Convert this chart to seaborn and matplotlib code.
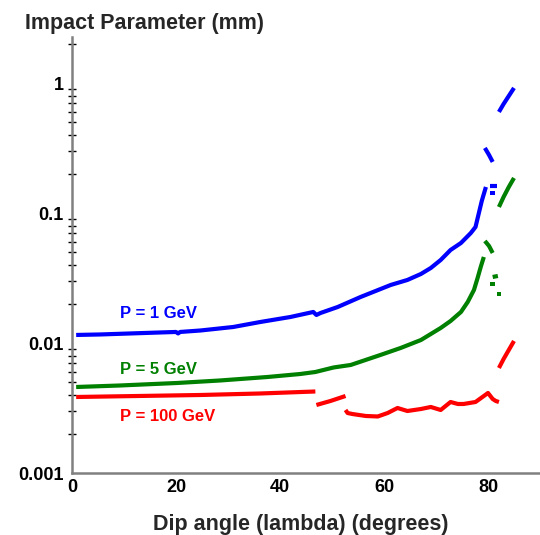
import numpy as np
import pandas as pd
import matplotlib
matplotlib.use("Agg")
import matplotlib.pyplot as plt
import matplotlib.ticker as mticker
import seaborn as sns

# ---------------- data ----------------
SERIES = ["P = 1 GeV", "P = 5 GeV", "P = 100 GeV"]
COLORS = {"P = 1 GeV": "#0000FF", "P = 5 GeV": "#008000", "P = 100 GeV": "#FF0000"}

# line segments (dip angle in degrees, impact parameter in mm)
blue_x = [
    [0.8, 5.4, 11.2, 17.0, 20.0, 20.4, 20.8, 24.7, 31.0, 36.2, 42.0, 46.4, 47.0, 47.8,
     51.1, 55.5, 61.3, 64.5, 67.1, 69.0, 70.9, 72.8, 74.8, 76.7, 77.6, 78.2, 78.8, 79.6],
    [80.3, 81.7],
    [79.4, 80.2, 80.9],
    [82.1, 83.0, 84.0, 85.0],
]
blue_y = [
    [0.01155, 0.01165, 0.01186, 0.01207, 0.01218, 0.01186, 0.01218, 0.0125, 0.0133,
     0.01453, 0.01588, 0.01736, 0.01646, 0.01705, 0.01896, 0.02264, 0.02802, 0.03061,
     0.03404, 0.03785, 0.04362, 0.05208, 0.05896, 0.0704, 0.0783, 0.0986, 0.1241, 0.1591],
    [0.1619, 0.1619],
    [0.3177, 0.2805, 0.2479],
    [0.6014, 0.693, 0.7985, 0.920],
]
green_x = [
    [0.8, 9.2, 20.2, 28.5, 37.6, 43.9, 46.8, 50.3, 53.6, 59.3, 63.2, 67.1, 70.9,
     72.8, 74.8, 76.1, 77.3, 78.0, 78.6, 79.2],
    [79.4, 80.2, 80.9],
    [80.9, 81.9],
    [82.1, 83.0, 84.0, 85.0],
]
green_y = [
    [0.004592, 0.004716, 0.00493, 0.005155, 0.005483, 0.005782, 0.005991, 0.00649,
     0.006785, 0.008098, 0.009169, 0.01056, 0.01307, 0.01479, 0.01736, 0.02072,
     0.02564, 0.03171, 0.03853, 0.04601],
    [0.0611, 0.05591, 0.04939],
    [0.03228, 0.03286],
    [0.1116, 0.1333, 0.1591, 0.1866],
]
red_x = [
    [0.8, 24.7, 36.2, 46.8],
    [47.0, 49.7, 52.6],
    [52.6, 53.0, 53.9, 56.5, 58.8, 60.7, 62.6, 64.5, 67.1, 69.0, 70.9, 72.8, 74.2,
     75.3, 77.6, 79.2, 80.0, 80.9, 81.5, 82.1],
    [82.1, 83.0, 84.0, 85.0],
]
red_y = [
    [0.003847, 0.003985, 0.004093, 0.004241],
    [0.003338, 0.003583, 0.003915],
    [0.003055, 0.002896, 0.002846, 0.002747, 0.002723, 0.002896, 0.003165, 0.003001,
     0.003109, 0.003223, 0.003055, 0.00352, 0.003398, 0.003398, 0.00352, 0.003915,
     0.00413, 0.003713, 0.003583, 0.00352],
    [0.006432, 0.007545, 0.00885, 0.01038],
]
# isolated points
dot_series = ["P = 1 GeV", "P = 5 GeV", "P = 5 GeV"]
dot_x = [80.9, 80.9, 82.1]
dot_y = [0.143, 0.02851, 0.02388]

label_x = [9.2, 9.2, 9.2]
label_y = [0.01675, 0.00621, 0.0027]

x_ticks = [0, 20, 40, 60, 80]
y_ticks = [0.001, 0.01, 0.1, 1]

# ---------------- build table ----------------
rows = []
for name, xs, ys in zip(SERIES, [blue_x, green_x, red_x], [blue_y, green_y, red_y]):
    for k, (sx, sy) in enumerate(zip(xs, ys)):
        for order, (a, b) in enumerate(zip(sx, sy)):
            rows.append({"series": name, "seg": f"{name}-{k}", "order": order,
                         "x": a, "y": b})
lines_df = pd.DataFrame(rows)
dots_df = pd.DataFrame({"series": dot_series, "x": dot_x, "y": dot_y})

# ---------------- plot ----------------
sns.set_theme(style="white")
plt.rcParams["font.family"] = ["Liberation Sans", "DejaVu Sans"]

fig = plt.figure(figsize=(5.4, 5.35), dpi=100)
ax = fig.add_axes([72 / 540, 62 / 535, 468 / 540, 436 / 535])

sns.lineplot(data=lines_df, x="x", y="y", hue="series", units="seg",
             estimator=None, sort=False, palette=COLORS, linewidth=3.0,
             legend=False, ax=ax, solid_capstyle="butt")
sns.scatterplot(data=dots_df, x="x", y="y", hue="series", palette=COLORS,
                marker="s", s=12, linewidth=0, legend=False, ax=ax)

ax.set_yscale("log")
ax.set_xlim(0, 90)
ax.set_ylim(0.001, 2.27)

for name, lx, ly in zip(SERIES, label_x, label_y):
    ax.text(lx, ly, name, color=COLORS[name], fontsize=12, fontweight="bold",
            ha="left", va="center")

ax.set_xticks(x_ticks)
ax.set_yticks(y_ticks)
ax.yaxis.set_minor_locator(mticker.LogLocator(base=10, subs=np.arange(2, 10)))
ax.yaxis.set_minor_formatter(mticker.NullFormatter())
ax.yaxis.set_major_formatter(mticker.FuncFormatter(lambda v, _: f"{v:g}"))
ax.xaxis.set_major_formatter(mticker.FuncFormatter(lambda v, _: f"{v:g}"))

for s in ["top", "right"]:
    ax.spines[s].set_visible(False)
for s in ["left", "bottom"]:
    ax.spines[s].set_color("#808080")
    ax.spines[s].set_linewidth(1.8)

ax.tick_params(axis="both", which="major", direction="inout", length=8, width=1.2,
               color="black", labelsize=13, labelcolor="black")
ax.tick_params(axis="y", which="minor", direction="inout", length=6, width=1.0,
               color="black", left=True)
ax.tick_params(axis="x", which="major", pad=0.5)
ax.tick_params(axis="y", which="major", pad=2)
for lab in ax.get_xticklabels() + ax.get_yticklabels():
    lab.set_fontweight("bold")

ax.set_xlabel("")
ax.set_ylabel("")
ax.grid(False)

fig.text(25 / 540, 1 - 29 / 535, "Impact Parameter (mm)", fontsize=15.5,
         fontweight="bold", ha="left", va="baseline")
fig.text(301 / 540, 1 - 530 / 535, "Dip angle (lambda) (degrees)", fontsize=15.5,
         fontweight="bold", ha="center", va="baseline")

fig.savefig("out.png", dpi=100)
